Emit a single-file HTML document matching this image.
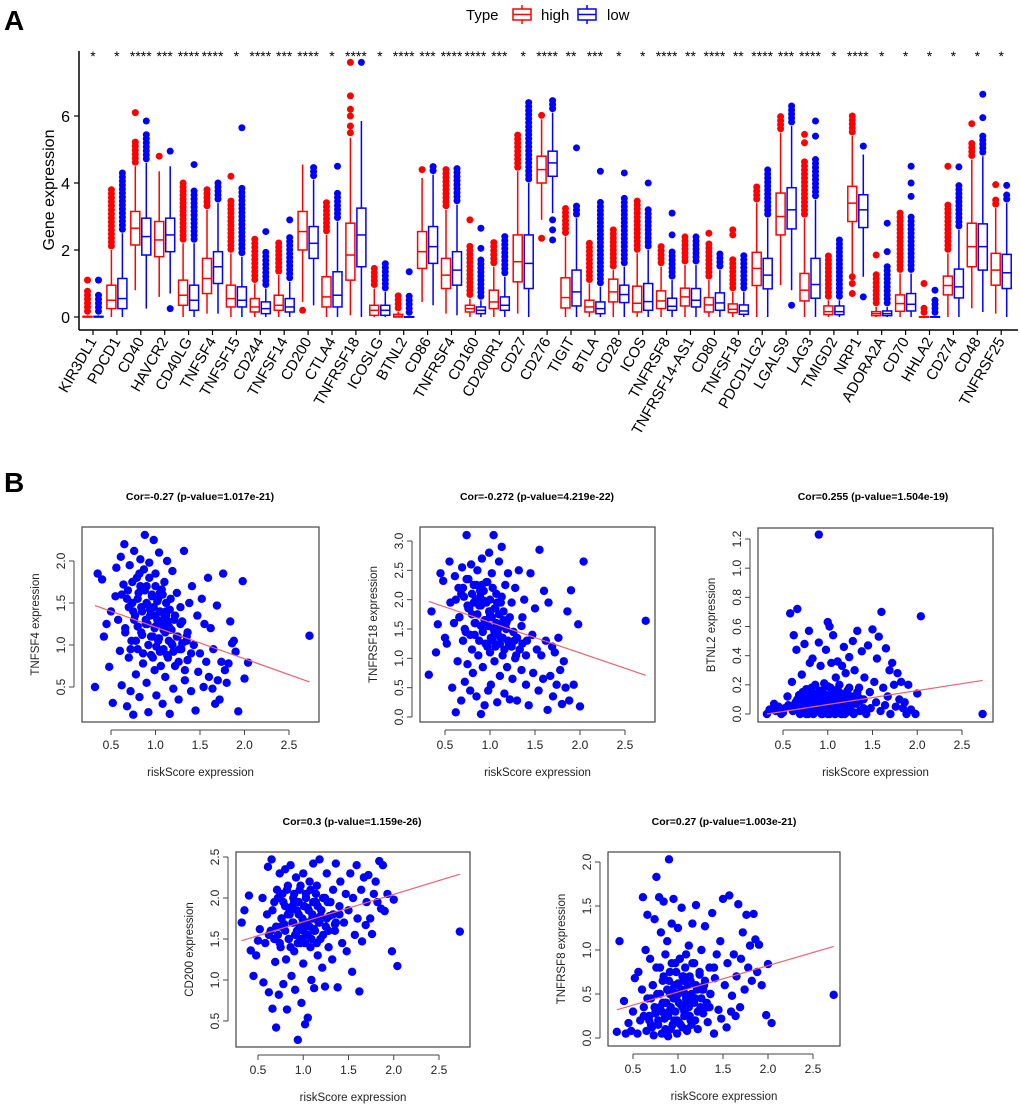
<!DOCTYPE html>
<html><head><meta charset="utf-8"><title>Immune checkpoint genes</title>
<style>
html,body{margin:0;padding:0;background:#fff;}
svg{display:block;font-family:"Liberation Sans",Arial,sans-serif;}
</style></head>
<body>
<svg id="fig" width="1020" height="1104" viewBox="0 0 1020 1104" xmlns="http://www.w3.org/2000/svg">
<text x="4" y="30" font-size="28" font-weight="bold">A</text>
<text x="4" y="492" font-size="28" font-weight="bold">B</text>
<g>
  <text x="466" y="20" font-size="15">Type</text>
  <g>
    <line x1="522" y1="5" x2="522" y2="24" stroke="#f00" stroke-width="1.5"/>
    <rect x="513" y="9" width="18" height="11" fill="#fff" stroke="#f00" stroke-width="1.5"/>
    <line x1="513" y1="14.5" x2="531" y2="14.5" stroke="#f00" stroke-width="1.5"/>
    <text x="541" y="20" font-size="15">high</text>
  </g>
  <g>
    <line x1="587" y1="5" x2="587" y2="24" stroke="#00f" stroke-width="1.5"/>
    <rect x="578" y="9" width="18" height="11" fill="#fff" stroke="#00f" stroke-width="1.5"/>
    <line x1="578" y1="14.5" x2="596" y2="14.5" stroke="#00f" stroke-width="1.5"/>
    <text x="607" y="20" font-size="15">low</text>
  </g>
</g>
<g id="boxplot"></g>
<g id="scatters"></g>
</svg>
<script>
// ---------- Panel A data ----------
const genes = ["KIR3DL1","PDCD1","CD40","HAVCR2","CD40LG","TNFSF4","TNFSF15","CD244","TNFSF14","CD200","CTLA4","TNFRSF18","ICOSLG","BTNL2","CD86","TNFRSF4","CD160","CD200R1","CD27","CD276","TIGIT","BTLA","CD28","ICOS","TNFRSF8","TNFRSF14-AS1","CD80","TNFSF18","PDCD1LG2","LGALS9","LAG3","TMIGD2","NRP1","ADORA2A","CD70","HHLA2","CD274","CD48","TNFRSF25"];
const stars = ["*","*","****","***","****","****","*","****","***","****","*","****","*","****","***","****","****","***","*","****","**","***","*","*","****","**","****","**","****","***","****","*","****","*","*","*","*","*","*"];
// [whiskerLow, q1, median, q3, whiskerHigh, outlierMax]
const highStats = [[0,0,0,0.02,0.05,0.85],[0,0.25,0.5,0.95,2.0,3.8],[0.8,2.15,2.65,3.15,4.5,5.3],[0.6,1.8,2.3,2.85,4.35,4.4],[0,0.35,0.65,1.1,2.2,4.0],[0.1,0.7,1.15,1.75,3.2,3.8],[0,0.3,0.55,0.95,1.9,3.5],[0,0.15,0.3,0.55,1.0,2.35],[0,0.2,0.35,0.65,1.25,2.3],[0.45,2.0,2.55,3.15,4.55,4.55],[0,0.3,0.6,1.2,2.45,3.5],[0.05,1.1,1.85,2.8,5.35,5.35],[0,0.05,0.2,0.35,0.85,1.55],[0,0,0.02,0.08,0.15,0.65],[0.45,1.45,1.95,2.55,4.15,4.15],[0.1,0.85,1.25,1.75,3.2,4.4],[0,0.15,0.25,0.35,0.55,2.2],[0,0.25,0.45,0.8,1.5,2.3],[0.1,1.05,1.65,2.45,4.35,5.5],[2.9,4.0,4.4,4.8,5.9,6.1],[0,0.27,0.58,1.17,2.4,3.25],[0,0.15,0.3,0.5,1.0,2.25],[0,0.45,0.75,1.13,1.4,2.6],[0,0.15,0.41,0.92,1.9,3.55],[0,0.25,0.48,0.78,1.5,2.1],[0,0.33,0.6,0.86,1.55,2.4],[0,0.15,0.36,0.58,1.1,2.2],[0,0.13,0.23,0.39,0.75,1.8],[0,0.94,1.45,1.93,3.4,3.9],[0.95,2.45,3.0,3.7,5.5,6.0],[0,0.48,0.8,1.3,2.95,4.7],[0,0.07,0.16,0.33,0.5,1.9],[1.3,2.85,3.4,3.9,5.4,6.0],[0,0.04,0.1,0.16,0.3,1.3],[0,0.17,0.4,0.66,1.3,3.1],[0,0,0,0.01,0.02,0.3],[0,0.66,0.94,1.22,1.9,3.4],[0.26,1.5,2.1,2.8,4.7,5.2],[0.1,0.95,1.4,1.9,3.25,3.5]];
const lowStats = [[0,0,0,0.02,0.05,0.75],[0,0.25,0.55,1.15,2.5,4.35],[0.25,1.85,2.4,2.95,4.6,5.5],[0.7,1.95,2.45,2.95,4.5,4.5],[0,0.2,0.5,0.95,2.2,3.8],[0.1,1.0,1.5,1.95,3.4,4.0],[0,0.3,0.5,0.9,1.8,3.9],[0,0.1,0.25,0.45,0.85,2.0],[0,0.15,0.3,0.55,1.05,2.4],[0.35,1.75,2.2,2.7,4.1,4.55],[0,0.3,0.65,1.35,2.85,3.8],[0,1.5,2.45,3.25,5.85,5.85],[0,0.05,0.2,0.35,0.75,1.6],[0,0,0,0.01,0.02,0.65],[0.35,1.6,2.1,2.7,4.25,4.5],[0.05,0.95,1.4,1.95,3.35,4.45],[0,0.1,0.2,0.3,0.5,1.75],[0,0.2,0.35,0.6,1.2,2.4],[0,0.85,1.6,2.45,4.0,6.45],[3.1,4.2,4.6,4.95,6.1,6.55],[0,0.33,0.75,1.4,2.95,3.4],[0,0.1,0.25,0.45,0.9,3.5],[0,0.43,0.67,0.95,1.5,3.6],[0,0.2,0.46,1.0,2.0,3.3],[0,0.2,0.32,0.56,1.1,2.0],[0,0.3,0.5,0.85,1.55,2.4],[0,0.2,0.42,0.72,1.4,1.9],[0,0.08,0.18,0.36,0.75,1.9],[0,0.84,1.25,1.75,2.95,4.4],[0.8,2.63,3.2,3.86,5.7,6.35],[0,0.56,0.97,1.75,3.5,4.8],[0,0.07,0.16,0.33,0.5,2.3],[1.2,2.67,3.2,3.65,4.85,4.85],[0,0.04,0.1,0.18,0.3,1.5],[0,0.18,0.38,0.7,1.3,3.0],[0,0,0,0.01,0.02,0.5],[0,0.57,0.9,1.43,2.6,4.0],[0.15,1.4,2.1,2.78,4.8,5.5],[0,0.85,1.32,1.87,3.4,3.65]];
// isolated outliers: [geneIndex, group(0 high / 1 low), value]
const extraOutliers = [[0,0,1.1],[0,1,1.1],[2,0,6.1],[2,1,5.85],[3,0,4.8],[3,1,0.25],[3,1,4.95],[4,1,4.55],[6,0,4.2],[6,1,5.65],[7,1,2.55],[8,1,2.9],[9,0,0.2],[10,1,4.5],[11,0,5.5],[11,0,5.7],[11,0,6.0],[11,0,6.2],[11,0,6.6],[11,0,7.6],[11,1,7.6],[13,1,1.35],[14,0,4.4],[16,0,2.9],[16,1,2.05],[16,1,2.65],[19,0,2.35],[19,1,2.9],[19,1,2.6],[19,1,2.3],[20,1,5.05],[21,1,4.35],[22,1,4.3],[23,1,4.0],[24,1,2.45],[24,1,3.1],[26,0,2.5],[27,0,2.45],[27,0,2.6],[29,1,0.35],[30,0,5.2],[30,0,5.45],[30,1,5.4],[30,1,5.85],[32,0,1.2],[32,0,1.0],[32,0,0.7],[32,1,5.1],[32,1,0.6],[33,0,1.85],[33,1,1.95],[33,1,2.8],[34,1,3.6],[34,1,4.0],[34,1,4.5],[35,0,1.0],[35,1,0.8],[36,0,4.5],[36,1,4.48],[37,0,5.77],[37,1,5.95],[37,1,6.65],[38,0,3.95],[38,1,3.93]];
const yTicksA = [0,2,4,6];

// ---------- Panel B data ----------
const riskScore = [0.32,0.35,0.40,0.42,0.45,0.48,0.50,0.52,0.55,0.56,0.58,0.60,0.61,0.62,0.64,0.65,0.66,0.68,0.69,0.70,0.71,0.72,0.73,0.74,0.75,0.76,0.77,0.78,0.79,0.80,0.80,0.81,0.82,0.83,0.84,0.85,0.86,0.87,0.88,0.89,0.90,0.90,0.91,0.92,0.93,0.94,0.95,0.96,0.97,0.98,0.99,1.00,1.00,1.01,1.02,1.03,1.04,1.05,1.06,1.07,1.08,1.09,1.10,1.11,1.12,1.13,1.14,1.15,1.16,1.17,1.18,1.19,1.20,1.21,1.22,1.24,1.25,1.26,1.28,1.29,1.30,1.32,1.33,1.35,1.36,1.38,1.40,1.41,1.43,1.45,1.47,1.48,1.50,1.52,1.54,1.55,1.57,1.59,1.60,1.62,1.64,1.65,1.67,1.69,1.70,1.72,1.74,1.76,1.78,1.80,1.82,1.84,1.86,1.88,1.90,1.93,1.98,2.00,2.04,2.73,
0.62,0.66,0.70,0.72,0.74,0.76,0.78,0.80,0.82,0.84,0.85,0.86,0.88,0.89,0.90,0.92,0.93,0.94,0.95,0.96,0.97,0.98,0.99,1.00,1.01,1.02,1.03,1.04,1.05,1.06,1.07,1.08,1.09,1.10,1.11,1.12,1.13,1.14,1.15,1.16,1.18,1.20,1.22,1.24,1.26,1.28,1.30,1.33,1.36,1.40,0.68,0.75,0.83,0.91,1.00,1.05,1.12,1.19,1.27,1.35];
const tnfsf4 = [0.50,1.85,1.78,1.10,1.25,0.74,1.40,0.31,1.58,1.92,1.30,0.93,2.05,0.52,1.72,2.20,1.15,0.27,1.65,0.85,1.95,0.45,1.05,1.50,0.17,2.12,1.35,0.65,1.80,1.22,0.95,1.62,0.38,2.02,1.45,1.12,0.78,1.90,2.31,1.30,0.55,1.70,1.25,0.20,1.98,1.42,0.88,1.58,1.10,2.25,0.70,1.35,1.85,0.40,1.52,1.05,2.10,0.92,1.28,1.66,0.30,1.18,1.75,0.62,1.40,2.00,0.85,1.22,0.18,1.55,1.02,1.88,0.48,1.30,0.75,1.62,1.10,0.35,1.45,0.95,1.28,2.12,0.58,1.05,0.82,1.50,0.45,1.70,1.00,0.22,1.35,0.68,0.90,1.55,0.50,1.25,0.80,1.80,0.62,1.20,0.48,0.95,0.30,1.47,0.58,0.35,0.80,1.85,0.70,0.55,0.78,1.28,1.02,1.05,0.92,0.21,1.76,0.60,0.79,1.11,
1.60,1.20,1.45,0.95,1.75,1.30,1.05,1.55,1.85,1.15,1.40,0.90,1.65,1.25,1.50,1.00,1.80,1.35,1.10,1.60,0.85,1.45,1.20,1.70,0.98,1.30,1.55,1.08,1.40,0.75,1.25,1.60,0.95,1.35,1.15,1.50,0.88,1.28,1.05,1.42,1.18,0.92,1.35,1.10,0.80,1.25,1.02,0.70,1.15,0.90,1.55,1.40,1.70,1.48,1.22,1.62,1.35,1.00,0.95,1.10];
const tnfrsf18 = [0.72,1.80,1.10,1.58,2.45,2.32,1.35,1.25,2.65,1.95,0.50,1.60,2.40,0.08,0.95,2.20,1.70,0.28,2.55,1.30,2.05,0.60,1.45,3.10,0.90,2.35,1.85,0.45,2.60,1.15,1.75,0.75,2.25,1.40,2.00,0.35,2.50,1.05,1.90,2.15,0.05,1.55,2.70,0.85,1.98,0.20,1.65,2.30,1.20,0.45,2.80,1.10,1.75,0.55,2.45,1.30,3.10,0.95,1.85,2.10,0.25,1.50,2.65,0.70,1.35,2.90,1.05,1.80,0.40,2.25,1.60,0.85,2.45,1.25,0.30,1.95,0.65,1.45,2.20,1.05,0.28,2.50,1.15,0.80,1.70,2.00,0.55,1.30,0.20,2.45,1.40,0.75,1.85,1.15,0.45,2.85,1.05,0.65,2.15,1.30,0.12,1.95,0.70,1.20,0.35,1.10,0.55,1.35,0.80,0.22,0.95,0.50,1.80,0.28,2.16,0.55,1.58,0.18,2.65,1.64,
2.00,1.70,2.20,1.50,2.35,1.85,1.40,2.10,1.95,1.60,2.25,1.75,1.30,2.05,1.90,1.45,2.15,1.65,1.25,1.95,2.30,1.55,1.80,2.00,1.35,1.70,2.20,1.50,1.85,1.20,1.60,1.95,1.40,1.75,1.25,1.55,2.05,1.35,1.65,1.15,1.50,1.30,1.70,1.20,1.45,1.00,1.35,1.15,1.25,1.05,2.10,1.90,1.60,2.25,1.80,1.45,1.95,1.65,1.30,1.55];
const btnl2 = [0.00,0.03,0.07,0.02,0.05,0.00,0.01,0.04,0.12,0.06,0.69,0.22,0.02,0.54,0.08,0.44,0.72,0.13,0.00,0.05,0.27,0.10,0.01,0.48,0.03,0.17,0.06,0.00,0.57,0.09,0.35,0.02,0.14,0.38,0.00,0.05,0.20,0.11,0.03,0.08,1.23,0.49,0.04,0.33,0.15,0.00,0.07,0.21,0.02,0.44,0.10,0.00,0.63,0.06,0.60,0.18,0.35,0.03,0.54,0.12,0.00,0.25,0.08,0.36,0.02,0.20,0.14,0.00,0.33,0.05,0.46,0.09,0.28,0.01,0.16,0.39,0.04,0.12,0.50,0.00,0.30,0.07,0.57,0.18,0.02,0.43,0.10,0.25,0.00,0.47,0.15,0.04,0.58,0.22,0.08,0.38,0.53,0.02,0.70,0.18,0.06,0.45,0.12,0.30,0.00,0.35,0.20,0.05,0.28,0.10,0.22,0.04,0.08,0.00,0.20,0.03,0.00,0.14,0.67,0.00,
0.05,0.10,0.02,0.15,0.08,0.00,0.12,0.04,0.18,0.06,0.01,0.09,0.14,0.03,0.11,0.07,0.00,0.16,0.05,0.10,0.02,0.13,0.08,0.19,0.04,0.00,0.11,0.06,0.15,0.03,0.09,0.00,0.12,0.07,0.17,0.02,0.10,0.05,0.14,0.00,0.08,0.13,0.03,0.18,0.06,0.11,0.01,0.15,0.09,0.04,0.12,0.07,0.02,0.16,0.10,0.05,0.13,0.00,0.08,0.11];
const cd200 = [1.70,1.85,2.03,1.36,1.05,1.30,1.48,1.62,2.00,0.97,1.45,1.80,2.38,0.85,1.60,2.47,0.65,1.95,1.22,0.42,2.10,1.55,0.82,2.30,1.40,1.75,2.05,0.95,1.68,2.35,1.90,1.25,0.64,2.15,1.50,1.85,2.40,1.05,1.70,2.00,1.35,1.95,0.88,2.25,1.60,0.27,1.80,2.10,1.45,0.72,1.65,2.30,1.20,1.90,0.46,2.05,1.55,0.54,1.85,2.20,1.40,1.00,1.75,2.42,0.90,1.60,1.95,2.15,1.30,1.70,2.47,1.50,1.85,1.15,2.00,0.92,1.65,2.30,1.40,1.78,1.95,1.25,2.10,1.60,2.42,0.91,1.80,2.20,1.45,1.70,2.05,1.35,1.85,2.30,1.10,2.00,1.55,2.40,1.75,0.86,2.10,1.47,2.25,1.67,1.95,2.28,1.75,1.56,2.05,2.20,1.95,2.45,1.87,2.40,1.84,2.05,1.35,1.98,1.17,1.59,
1.55,1.85,1.65,2.00,1.45,1.75,1.95,1.60,2.10,1.50,1.80,1.40,1.90,1.70,2.05,1.55,1.85,1.45,1.95,1.65,2.15,1.50,1.75,1.60,1.90,1.45,2.00,1.70,1.55,1.85,1.65,2.10,1.50,1.80,1.95,1.60,1.75,2.05,1.45,1.90,1.70,1.85,1.55,2.00,1.75,1.60,1.95,1.80,1.70,1.90,1.50,1.65,1.80,1.55,1.72,1.88,1.62,1.78,1.95,1.68];
const tnfrsf8 = [0.07,1.10,0.42,0.05,0.17,0.08,0.30,0.68,0.05,0.75,0.20,0.55,1.60,0.35,1.00,0.08,1.40,0.25,0.90,0.45,0.12,0.60,0.03,1.35,0.28,1.83,0.50,0.15,1.60,0.80,0.35,1.20,0.05,0.65,1.55,0.22,0.95,0.40,1.10,0.02,2.03,0.30,0.75,0.10,1.30,0.55,1.58,0.20,0.85,0.45,0.05,0.62,1.25,0.18,0.90,0.38,1.48,0.12,0.70,0.30,0.50,0.95,0.08,0.40,1.05,0.25,0.65,0.15,1.30,0.45,0.85,0.20,1.51,0.55,0.10,0.72,0.35,1.00,0.28,0.60,1.27,0.40,0.18,0.80,0.50,1.42,0.05,0.68,0.95,0.32,1.10,0.22,1.58,0.60,0.12,0.85,1.62,0.30,0.48,0.95,0.25,0.70,1.52,0.35,0.90,1.20,0.55,1.40,0.80,1.05,0.65,1.41,1.12,0.75,1.06,0.60,0.26,0.84,0.17,0.49,
0.25,0.45,0.15,0.60,0.35,0.80,0.20,0.50,0.30,0.70,0.40,0.10,0.55,0.25,0.65,0.35,0.85,0.15,0.45,0.60,0.30,0.75,0.20,0.50,0.40,0.90,0.15,0.55,0.35,0.65,0.25,0.80,0.45,0.10,0.60,0.35,0.70,0.20,0.50,0.85,0.40,0.60,0.30,0.75,0.45,0.55,0.65,0.35,0.50,0.80,0.20,0.30,0.40,0.50,0.60,0.70,0.25,0.45,0.55,0.35];
const scatterNames = ["TNFSF4","TNFRSF18","BTNL2","CD200","TNFRSF8"];
const scatterTitles = ["Cor=-0.27 (p-value=1.017e-21)","Cor=-0.272 (p-value=4.219e-22)","Cor=0.255 (p-value=1.504e-19)","Cor=0.3 (p-value=1.159e-26)","Cor=0.27 (p-value=1.003e-21)"];
const fitStart = [1.47,1.97,0.0,1.48,0.32];   // fitted value at riskScore min
const fitEnd = [0.56,0.71,0.23,2.29,1.04];    // fitted value at riskScore max
const xTicksB = [0.5,1.0,1.5,2.0,2.5];
const yTicksB = [[0.5,1.0,1.5,2.0],[0.0,0.5,1.0,1.5,2.0,2.5,3.0],[0.0,0.2,0.4,0.6,0.8,1.0,1.2],[0.5,1.0,1.5,2.0,2.5],[0.0,0.5,1.0,1.5,2.0]];

const NS = "http://www.w3.org/2000/svg";
function mk(tag, attrs, parent){const e=document.createElementNS(NS,tag);for(const k in attrs)e.setAttribute(k,attrs[k]);if(parent)parent.appendChild(e);return e;}

// ---------- Panel A drawing ----------
(function(){
  const g = document.getElementById("boxplot");
  const yA = v => 317 - v*33.5;
  const xA = i => 93 + i*23.9;
  const ax = mk("line",{x1:79,y1:51,x2:79,y2:330,stroke:"#000","stroke-width":1.5},g);
  
  
  const bx = mk("line",{x1:79,y1:330,x2:1018,y2:330,stroke:"#000","stroke-width":1.5},g);
  
  
  yTicksA.forEach(t=>{
    mk("line",{x1:74,y1:yA(t),x2:79,y2:yA(t),stroke:"#000","stroke-width":1.2},g);
    const tl = mk("text",{x:70,y:yA(t)+6,"font-size":16,"text-anchor":"end"},g);
    tl.textContent = t;
    
    
  });
  const yt = mk("text",{x:0,y:0,"font-size":16,"text-anchor":"middle",transform:"translate(54,190) rotate(-90)"},g);
  yt.textContent = "Gene expression";
  
  

  function drawBox(s, cx, color, name){
    const bg = mk("g",{},g);
    
    
    const [wl,q1,md,q3,wh,om] = s;
    for(let v=wh+0.12; v<=om+0.001; v+=0.12){ mk("circle",{cx:cx,cy:yA(v),r:3.5,fill:color},bg); }
    mk("line",{x1:cx,y1:yA(wl),x2:cx,y2:yA(q1),stroke:color,"stroke-width":1.5},bg);
    mk("line",{x1:cx,y1:yA(q3),x2:cx,y2:yA(wh),stroke:color,"stroke-width":1.5},bg);
    mk("rect",{x:cx-4.5,y:yA(q3),width:9,height:Math.max(0.5,yA(q1)-yA(q3)),fill:"#fff",stroke:color,"stroke-width":1.5},bg);
    mk("line",{x1:cx-4.5,y1:yA(md),x2:cx+4.5,y2:yA(md),stroke:color,"stroke-width":1.5},bg);
  }
  genes.forEach((gn,i)=>{
    const cx = xA(i);
    drawBox(highStats[i], cx-5.5, "#f00", "box-high-"+gn.toLowerCase());
    drawBox(lowStats[i], cx+5.5, "#00f", "box-low-"+gn.toLowerCase());
    mk("line",{x1:cx,y1:330,x2:cx,y2:335,stroke:"#000","stroke-width":1.2},g);
    const lab = mk("text",{x:0,y:0,"font-size":15,"text-anchor":"end",transform:`translate(${cx+4},${341}) rotate(-60)`},g);
    lab.textContent = gn;
    
    
    const st = mk("text",{x:cx,y:61,"font-size":14,"text-anchor":"middle"},g);
    st.textContent = stars[i];
    
    
  });
  extraOutliers.forEach(o=>{
    const cx = xA(o[0]) + (o[1]===0?-5.5:5.5);
    const c = mk("circle",{cx:cx,cy:yA(o[2]),r:3.5,fill:o[1]===0?"#f00":"#00f"},g);
    
    
  });
})();

// ---------- Panel B drawing ----------
const layouts = [
  {L:82,R:319,T:527,B:722,x0:111,x1:289,yv0:0.5,yp0:687,yv1:2.0,yp1:561,tx:200,ty:500},
  {L:420,R:655,T:527,B:722,x0:445,x1:625,yv0:0.0,yp0:717,yv1:3.0,yp1:541,tx:537,ty:500},
  {L:758,R:993,T:528,B:722,x0:783,x1:962,yv0:0.0,yp0:714,yv1:1.2,yp1:539,tx:873,ty:500},
  {L:236,R:470,T:852,B:1047,x0:258,x1:439,yv0:0.5,yp0:1021,yv1:2.5,yp1:857,tx:352,ty:825},
  {L:608,R:840,T:852,B:1046,x0:633,x1:813,yv0:0.0,yp0:1038,yv1:2.0,yp1:862,tx:724,ty:825}
];
const seriesB = [tnfsf4,tnfrsf18,btnl2,cd200,tnfrsf8];
(function(){
  const root = document.getElementById("scatters");
  seriesB.forEach((ys,k)=>{
    const Lo = layouts[k];
    const g = mk("g",{},root);
    
    
    const xS = v => Lo.x0 + (v-0.5)*(Lo.x1-Lo.x0)/2.0;
    const yS = v => Lo.yp0 + (v-Lo.yv0)*(Lo.yp1-Lo.yp0)/(Lo.yv1-Lo.yv0);
    const fr = mk("rect",{x:Lo.L,y:Lo.T,width:Lo.R-Lo.L,height:Lo.B-Lo.T,fill:"none",stroke:"#444","stroke-width":1.2},g);
    
    
    const ti = mk("text",{x:Lo.tx,y:Lo.ty,"font-size":10.5,"font-weight":"bold","text-anchor":"middle"},g);
    ti.textContent = scatterTitles[k];
    
    
    const xa = Lo.B+8;
    mk("line",{x1:xS(xTicksB[0]),y1:xa,x2:xS(xTicksB[xTicksB.length-1]),y2:xa,stroke:"#444","stroke-width":1},g);
    xTicksB.forEach(t=>{
      mk("line",{x1:xS(t),y1:xa,x2:xS(t),y2:xa+5,stroke:"#444","stroke-width":1},g);
      const tl = mk("text",{x:xS(t),y:Lo.B+27,"font-size":12,"text-anchor":"middle",fill:"#222"},g);
      tl.textContent = t.toFixed(1);
      
      
    });
    const xl = mk("text",{x:(Lo.L+Lo.R)/2,y:Lo.B+54,"font-size":11.5,"text-anchor":"middle",fill:"#222"},g);
    xl.textContent = "riskScore expression";
    
    
    const ya = Lo.L-8;
    const yt = yTicksB[k];
    mk("line",{x1:ya,y1:yS(yt[0]),x2:ya,y2:yS(yt[yt.length-1]),stroke:"#444","stroke-width":1},g);
    yt.forEach(t=>{
      mk("line",{x1:ya-5,y1:yS(t),x2:ya,y2:yS(t),stroke:"#444","stroke-width":1},g);
      const tl = mk("text",{x:0,y:0,"font-size":12,"text-anchor":"middle",fill:"#222",transform:`translate(${Lo.L-17},${yS(t)}) rotate(-90)`},g);
      tl.textContent = t.toFixed(1);
      
      
    });
    const yl = mk("text",{x:0,y:0,"font-size":11.5,"text-anchor":"middle",fill:"#222",transform:`translate(${Lo.L-43},${(Lo.T+Lo.B)/2}) rotate(-90)`},g);
    yl.textContent = scatterNames[k]+" expression";
    
    
    ys.forEach((v,i)=>{
      const c = mk("circle",{cx:xS(riskScore[i]),cy:yS(v),r:4.2,fill:"#00f"},g);
      
      
    });
    const xmin = Math.min(...riskScore), xmax = Math.max(...riskScore);
    const fl = mk("line",{x1:xS(xmin),y1:yS(fitStart[k]),x2:xS(xmax),y2:yS(fitEnd[k]),stroke:"#f06070","stroke-width":1.2},g);
    
    
  });
})();
</script>
</body></html>
